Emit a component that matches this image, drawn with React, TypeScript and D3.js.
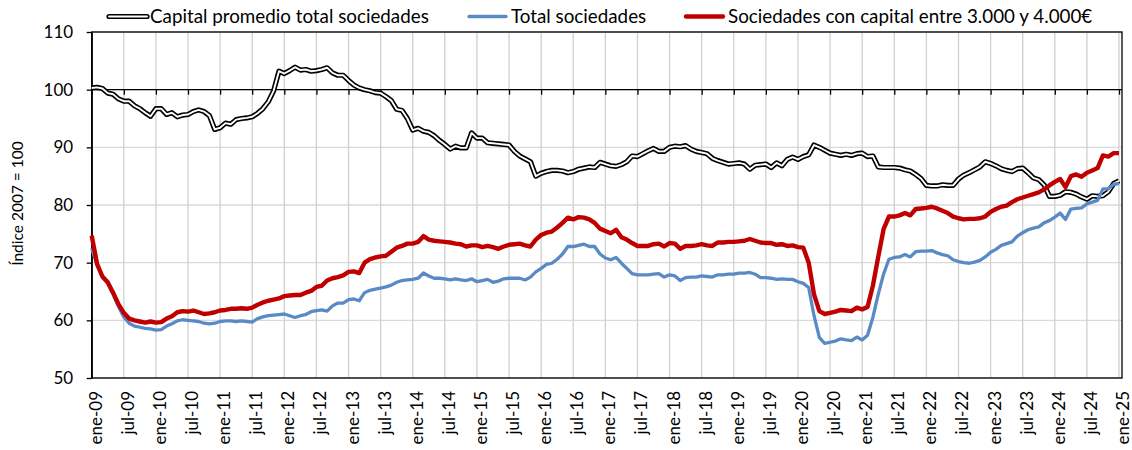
import React, { useEffect, useRef } from 'react';
import * as d3 from 'd3';

// monthly values ene-09 .. ene-25, indice 2007 = 100
const capitalPromedio = [
  100.3, 100.4, 100.2, 99.4, 99.2, 98.4, 98.0, 98.0, 97.2, 96.7, 96.0, 95.4, // 2009
  96.7, 96.7, 95.7, 96.0, 95.3, 95.6, 95.7, 96.2, 96.5, 96.2, 95.5, 93.1, // 2010
  93.4, 94.2, 94.0, 94.8, 95.0, 95.1, 95.3, 95.9, 96.7, 97.9, 99.8, 103.2, // 2011
  102.8, 103.3, 103.9, 103.4, 103.5, 103.2, 103.3, 103.5, 103.8, 102.9, 102.5, 102.5, // 2012
  101.6, 100.8, 100.3, 100.0, 99.8, 99.5, 99.4, 98.8, 98.1, 96.6, 96.4, 95.0, // 2013
  93.0, 93.3, 92.8, 92.6, 92.0, 91.2, 90.5, 89.7, 90.2, 89.9, 89.9, 92.5, // 2014
  91.6, 91.6, 90.8, 90.7, 90.6, 90.5, 90.4, 89.3, 88.5, 88.0, 87.5, 85.0, // 2015
  85.5, 85.8, 86.0, 86.0, 85.9, 85.6, 85.8, 86.2, 86.4, 86.6, 86.5, 87.4, // 2016
  87.1, 86.8, 86.7, 87.0, 87.5, 88.5, 88.4, 88.9, 89.4, 89.8, 89.3, 89.3, // 2017
  90.0, 90.2, 90.1, 90.3, 89.7, 89.3, 89.1, 88.9, 88.1, 87.7, 87.4, 87.1, // 2018
  87.2, 87.3, 87.1, 86.2, 86.9, 87.0, 87.1, 86.5, 87.3, 86.8, 87.9, 88.3, // 2019
  87.9, 88.4, 88.7, 90.4, 90.0, 89.5, 89.0, 88.8, 88.6, 88.8, 88.6, 88.9, // 2020
  89.0, 88.4, 88.5, 86.6, 86.5, 86.5, 86.5, 86.4, 86.1, 85.9, 85.3, 84.6, // 2021
  83.4, 83.3, 83.3, 83.5, 83.4, 83.4, 84.5, 85.2, 85.6, 86.1, 86.6, 87.5, // 2022
  87.2, 86.8, 86.3, 86.0, 85.8, 86.3, 86.4, 85.6, 84.7, 84.4, 83.5, 81.5, // 2023
  81.5, 81.7, 82.3, 82.2, 81.9, 81.4, 81.0, 81.6, 81.5, 81.6, 82.3, 83.7, // 2024
  84.2 // ene-25
];

const totalSociedades = [
  72.5, 69.6, 67.5, 66.4, 64.5, 62.4, 60.6, 59.5, 59.0, 58.8, 58.6, 58.5,
  58.3, 58.4, 59.0, 59.4, 59.9, 60.1, 60.0, 59.9, 59.8, 59.5, 59.4, 59.5,
  59.8, 59.9, 59.9, 59.8, 59.9, 59.8, 59.7, 60.3, 60.6, 60.8, 60.9, 61.0,
  61.1, 60.8, 60.5, 60.8, 61.0, 61.5, 61.7, 61.8, 61.6, 62.5, 63.0, 63.0,
  63.6, 63.7, 63.4, 64.8, 65.2, 65.4, 65.6, 65.8, 66.1, 66.6, 66.9, 67.0,
  67.1, 67.3, 68.2, 67.7, 67.3, 67.3, 67.2, 67.0, 67.2, 67.0, 66.9, 67.2,
  66.7, 66.9, 67.1, 66.6, 66.8, 67.2, 67.3, 67.3, 67.3, 67.0, 67.5, 68.4,
  69.0, 69.7, 69.9, 70.6, 71.5, 72.8, 72.8, 73.0, 73.2, 72.8, 72.8, 71.5,
  70.8, 70.5, 70.9, 69.9, 69.0, 68.1, 67.9, 67.9, 67.9, 68.0, 68.1, 67.5,
  67.9, 67.7, 66.9, 67.4, 67.5, 67.5, 67.7, 67.6, 67.5, 67.9, 67.9, 68.0,
  68.0, 68.2, 68.2, 68.3, 68.0, 67.4, 67.4, 67.3, 67.1, 67.2, 67.1, 67.1,
  66.7, 66.4, 65.7, 60.8, 57.0, 56.0, 56.2, 56.4, 56.8, 56.6, 56.5, 57.1,
  56.6, 57.4, 60.5, 64.5, 68.0, 70.6, 70.9, 71.0, 71.4, 71.0, 71.9, 72.0,
  72.0, 72.1, 71.7, 71.4, 71.2, 70.5, 70.2, 70.0, 69.9, 70.1, 70.4, 71.0,
  71.8, 72.3, 73.0, 73.3, 73.6, 74.6, 75.2, 75.7, 76.0, 76.2, 76.9, 77.3,
  77.9, 78.6, 77.5, 79.3, 79.4, 79.5, 80.2, 80.5, 80.8, 82.8, 82.8, 83.6,
  83.7
];

const capital3000a4000 = [
  74.7, 69.8, 67.6, 66.6, 64.8, 62.8, 61.3, 60.3, 60.0, 59.8, 59.6, 59.8,
  59.6, 59.7, 60.3, 60.7, 61.4, 61.6, 61.5, 61.7, 61.4, 61.1, 61.2, 61.4,
  61.7, 61.8, 62.0, 62.0, 62.1, 62.0, 62.2, 62.7, 63.1, 63.4, 63.6, 63.8,
  64.2, 64.3, 64.4, 64.4, 64.8, 65.1, 65.8, 66.0, 66.9, 67.3, 67.5, 67.8,
  68.4, 68.5, 68.2, 70.0, 70.6, 70.9, 71.1, 71.2, 71.9, 72.6, 72.9, 73.3,
  73.3, 73.6, 74.6, 74.0, 73.8, 73.7, 73.6, 73.5, 73.3, 73.2, 72.8, 73.0,
  73.0, 72.7, 72.9, 72.7, 72.4, 72.8, 73.1, 73.2, 73.3, 73.0, 72.8, 74.0,
  74.8, 75.2, 75.4, 76.1, 76.9, 77.8, 77.5, 77.9, 77.8, 77.5, 76.9, 75.9,
  75.5, 75.1, 75.7, 74.4, 74.0, 73.4, 72.9, 72.9, 72.9, 73.2, 73.3, 72.8,
  73.4, 73.3, 72.4, 72.9, 72.9, 73.0, 73.2, 73.0, 72.9, 73.5, 73.5, 73.6,
  73.6, 73.7, 73.8, 74.1, 73.8, 73.5, 73.4, 73.4, 73.1, 73.2, 72.9, 73.0,
  72.7, 72.6, 70.0, 64.5, 61.6, 61.1, 61.3, 61.5, 61.8, 61.7, 61.6, 62.2,
  61.9, 62.3, 66.0, 71.0, 75.8, 78.0, 78.0, 78.2, 78.6, 78.2, 79.3, 79.4,
  79.5, 79.7, 79.4, 79.0, 78.6, 78.0, 77.7, 77.5, 77.6, 77.6, 77.7, 78.0,
  78.8, 79.3, 79.7, 79.9, 80.5, 81.0, 81.3, 81.6, 81.9, 82.2, 82.7, 83.4,
  84.0, 84.5, 83.1, 85.0, 85.3, 84.9, 85.6, 86.0, 86.4, 88.6, 88.4, 89.0,
  89.0
];

const tickLabels = [
  "ene-09", "jul-09", "ene-10", "jul-10", "ene-11", "jul-11", "ene-12", "jul-12",
  "ene-13", "jul-13", "ene-14", "jul-14", "ene-15", "jul-15", "ene-16", "jul-16",
  "ene-17", "jul-17", "ene-18", "jul-18", "ene-19", "jul-19", "ene-20", "jul-20",
  "ene-21", "jul-21", "ene-22", "jul-22", "ene-23", "jul-23", "ene-24", "jul-24",
  "ene-25"
];
const yTicks = [50, 60, 70, 80, 90, 100, 110];

const seriesNames = [
  "Capital promedio total sociedades",
  "Total sociedades",
  "Sociedades con capital entre 3.000 y 4.000€"
];

const FONT = "Lato, 'Open Sans', sans-serif";

function App() {
  const svgRef = useRef(null);

  useEffect(() => {
    const svg = d3.select(svgRef.current);
    svg.selectAll("*").remove();

    const plotL = 91.7, plotR = 1122, plotT = 32, plotB = 378;

    const x = d3.scaleLinear()
      .domain([0, capitalPromedio.length - 1])
      .range([plotL, 1119]);
    const y = d3.scaleLinear().domain([50, 110]).range([plotB, plotT]);

    // grid
    svg.append("g").selectAll("line").data(yTicks).enter().append("line")
      .attr("x1", plotL).attr("x2", plotR)
      .attr("y1", d => y(d)).attr("y2", d => y(d))
      .attr("stroke", "#D9D9D9").attr("stroke-width", 1.3);
    svg.append("g").selectAll("line").data(tickLabels).enter().append("line")
      .attr("x1", (d, i) => x(i * 6)).attr("x2", (d, i) => x(i * 6))
      .attr("y1", plotT).attr("y2", plotB)
      .attr("stroke", "#D0D0D0").attr("stroke-width", 1.3);

    // plot border
    svg.append("rect")
      .attr("x", plotL).attr("y", plotT)
      .attr("width", plotR - plotL).attr("height", plotB - plotT)
      .attr("fill", "none").attr("stroke", "#000").attr("stroke-width", 1.3);

    // category axis crossing at 100
    const ax = svg.append("g")
      .attr("transform", `translate(0,${y(100)})`)
      .call(d3.axisBottom(x)
        .tickValues(tickLabels.map((d, i) => i * 6))
        .tickSize(5).tickSizeOuter(0).tickFormat(() => ""));
    ax.select(".domain").remove();
    ax.selectAll("line").attr("stroke", "#000").attr("stroke-width", 1.3);
    svg.append("line")
      .attr("x1", plotL).attr("x2", plotR)
      .attr("y1", y(100)).attr("y2", y(100))
      .attr("stroke", "#000").attr("stroke-width", 1.3);

    // value axis
    const ay = svg.append("g")
      .attr("transform", `translate(${plotL},0)`)
      .call(d3.axisLeft(y).tickValues(yTicks).tickSize(5).tickSizeOuter(0).tickPadding(13.5));
    ay.select(".domain").attr("stroke", "#000").attr("stroke-width", 1.3);
    ay.selectAll("line").attr("stroke", "#000").attr("stroke-width", 1.3);
    ay.selectAll("text")
      .attr("font-family", FONT).attr("font-size", 17).attr("fill", "#000");

    // x labels
    svg.append("g").selectAll("text").data(tickLabels).enter().append("text")
      .attr("transform", (d, i) => `translate(${x(i * 6) + 10},391) rotate(-90)`)
      .attr("text-anchor", "end")
      .attr("font-family", FONT).attr("font-size", 17)
      .text(d => d);

    // y title
    svg.append("text")
      .attr("transform", "translate(23,203.5) rotate(-90)")
      .attr("text-anchor", "middle")
      .attr("font-family", FONT).attr("font-size", 15.5)
      .text("Índice 2007 = 100");

    const line = d3.line<number>()
      .x((d, i) => x(i))
      .y(d => y(d));

    // series
    svg.append("path").datum(capitalPromedio)
      .attr("d", line).attr("fill", "none")
      .attr("stroke", "#000").attr("stroke-width", 5.2).attr("stroke-linejoin", "round");
    svg.append("path").datum(capitalPromedio)
      .attr("d", line).attr("fill", "none")
      .attr("stroke", "#fff").attr("stroke-width", 1.9).attr("stroke-linejoin", "round");
    svg.append("path").datum(totalSociedades)
      .attr("d", line).attr("fill", "none")
      .attr("stroke", "#5A8AC6").attr("stroke-width", 3.3).attr("stroke-linejoin", "round");
    svg.append("path").datum(capital3000a4000)
      .attr("d", line).attr("fill", "none")
      .attr("stroke", "#C00000").attr("stroke-width", 4.4).attr("stroke-linejoin", "round");

    // legend
    const lg = svg.append("g").attr("font-family", FONT).attr("font-size", 18.8);
    const ly = 16.5;
    lg.append("line").attr("x1", 109).attr("x2", 147).attr("y1", ly).attr("y2", ly)
      .attr("stroke", "#000").attr("stroke-width", 5.2).attr("stroke-linecap", "round");
    lg.append("line").attr("x1", 109).attr("x2", 147).attr("y1", ly).attr("y2", ly)
      .attr("stroke", "#fff").attr("stroke-width", 1.9).attr("stroke-linecap", "round");
    lg.append("text").attr("x", 150).attr("y", 23).text(seriesNames[0]);

    lg.append("line").attr("x1", 469).attr("x2", 506).attr("y1", ly).attr("y2", ly)
      .attr("stroke", "#5A8AC6").attr("stroke-width", 3.3).attr("stroke-linecap", "round");
    lg.append("text").attr("x", 511).attr("y", 23).text(seriesNames[1]);

    lg.append("line").attr("x1", 686).attr("x2", 723).attr("y1", ly).attr("y2", ly)
      .attr("stroke", "#C00000").attr("stroke-width", 4.4).attr("stroke-linecap", "round");
    lg.append("text").attr("x", 728).attr("y", 23).text(seriesNames[2]);
  }, []);

  return (
    <svg ref={svgRef} width={1132} height={450}
      style={{ position: 'absolute', left: 0, top: 0, background: '#fff' }} />
  );
}

export default App;
